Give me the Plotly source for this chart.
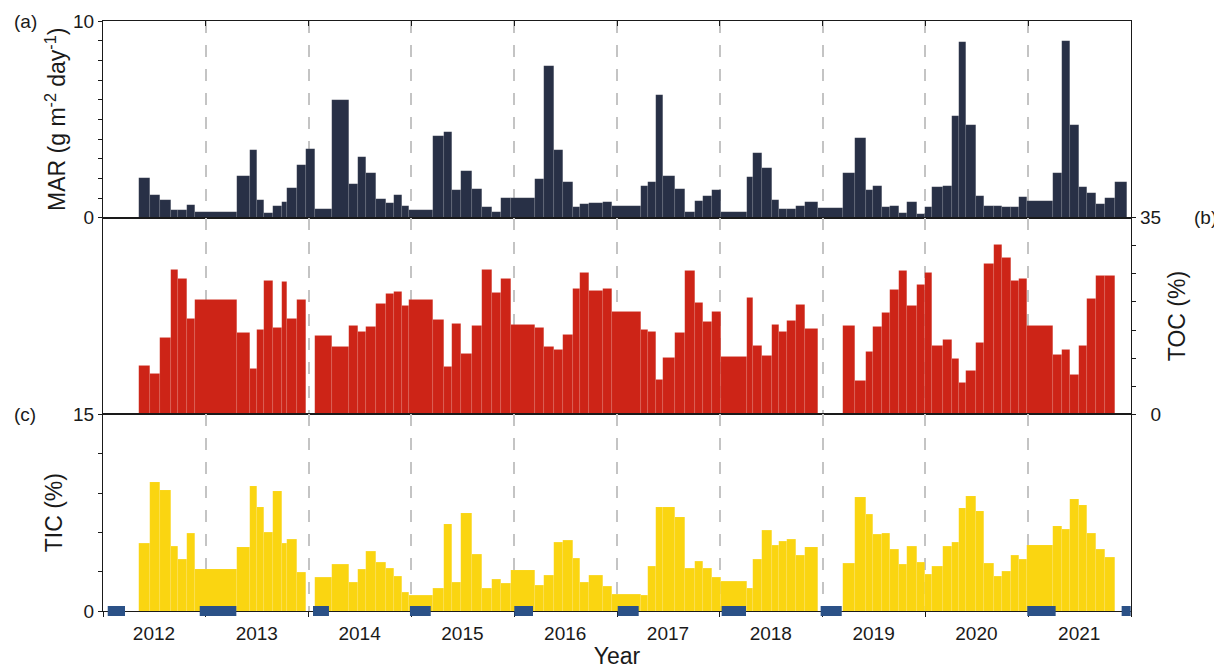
import plotly.graph_objects as go

# Sampling interval edges (decimal years)
edges = [2012.347, 2012.454, 2012.552, 2012.661, 2012.733, 2012.814, 2012.895, 2013.304,
         2013.430, 2013.495, 2013.566, 2013.657, 2013.741, 2013.787, 2013.884, 2013.972,
         2014.062, 2014.231, 2014.390, 2014.483, 2014.555, 2014.656, 2014.750, 2014.834,
         2014.906, 2014.980, 2015.207, 2015.320, 2015.398, 2015.480, 2015.592, 2015.690,
         2015.787, 2015.872, 2015.969, 2016.199, 2016.287, 2016.387, 2016.478, 2016.569,
         2016.640, 2016.731, 2016.861, 2016.948, 2017.231, 2017.305, 2017.376, 2017.450,
         2017.567, 2017.665, 2017.756, 2017.840, 2017.927, 2018.009, 2018.262, 2018.326,
         2018.411, 2018.505, 2018.573, 2018.651, 2018.744, 2018.824, 2018.952, 2019.195,
         2019.315, 2019.422, 2019.493, 2019.578, 2019.659, 2019.740, 2019.824, 2019.915,
         2019.996, 2020.067, 2020.174, 2020.259, 2020.324, 2020.395, 2020.492, 2020.573,
         2020.670, 2020.742, 2020.830, 2020.911, 2020.985, 2021.244, 2021.326, 2021.407,
         2021.491, 2021.575, 2021.657, 2021.747, 2021.844, 2021.961]

# Mass accumulation rate (g m-2 day-1)
mar = [2.0, 1.15, 0.9, 0.39, 0.39, 0.64, 0.27, 2.12, 3.44, 0.9,
       0.25, 0.61, 0.78, 1.49, 2.69, 3.49, 0.46, 5.97, 1.71, 3.07,
       2.25, 0.93, 0.73, 1.14, 0.59, 0.38, 4.15, 4.37, 1.41, 2.37,
       1.46, 0.53, 0.29, 1.02, 1.02, 1.98, 7.7, 3.44, 1.83, 0.54,
       0.68, 0.75, 0.78, 0.58, 1.61, 1.8, 6.23, 2.12, 1.44, 0.27,
       0.85, 1.1, 1.42, 0.29, 2.05, 3.3, 2.54, 0.9, 0.44, 0.44,
       0.6, 0.82, 0.48, 2.29, 4.06, 1.41, 1.63, 0.53, 0.59, 0.25,
       0.78, 0.17, 0.56, 1.57, 1.63, 5.18, 8.93, 4.71, 1.12, 0.61,
       0.59, 0.54, 0.53, 1.03, 0.83, 2.25, 8.98, 4.72, 1.54, 1.27,
       0.7, 1.0, 1.83]

# Total organic carbon (%)
toc = [8.7, 7.3, 13.7, 25.8, 24.1, 17.0, 20.4, 14.5, 8.2, 15.05,
       23.8, 15.5, 23.6, 17.1, 20.4, None, 14.0, 12.0, 15.8, 14.75,
       15.6, 19.75, 21.4, 21.9, 19.4, 20.4, 16.8, 8.4, 16.1, 10.8,
       15.7, 25.7, 21.6, 24.2, 15.95, 15.4, 11.96, 11.5, 14.1, 22.4,
       25.2, 22.0, 22.3, 18.3, 15.05, 14.75, 6.2, 10.05, 14.5, 25.5,
       19.9, 16.5, 18.3, 10.2, 20.8, 12.2, 10.5, 15.95, 14.75, 16.7,
       19.6, 15.2, None, 15.8, 6.07, 11.2, 15.6, 18.1, 22.25, 25.5,
       19.3, 23.0, 25.3, 12.25, 13.3, 9.9, 5.7, 7.8, 12.7, 26.9,
       30.2, 27.9, 23.75, 24.1, 15.8, 10.7, 11.5, 7.0, 12.2, 20.6,
       24.6, 24.6, None]

# Total inorganic carbon (%)
tic = [5.16, 9.84, 9.2, 4.96, 3.94, 5.95, 3.16, 4.88, 9.49, 7.91,
       6.03, 9.15, 5.16, 5.47, 2.95, None, 2.57, 3.56, 2.21, 3.2,
       4.58, 3.71, 3.28, 2.67, 1.45, 1.22, 1.73, 6.61, 2.21, 7.45,
       4.32, 1.76, 2.42, 2.11, 3.08, 1.96, 2.7, 5.21, 5.42, 4.02,
       2.21, 2.75, 1.86, 1.3, 1.22, 3.43, 7.89, 7.89, 7.17, 3.23,
       3.82, 3.23, 2.55, 2.29, 1.76, 3.97, 6.16, 5.04, 5.29, 5.47,
       4.27, 4.88, None, 3.66, 8.67, 7.38, 5.83, 5.93, 4.71, 3.54,
       4.96, 3.74, 2.8, 3.43, 4.93, 5.24, 7.83, 8.75, 7.6, 3.64,
       2.67, 3.03, 4.25, 3.94, 5.01, 6.48, 6.25, 8.52, 8.09, 5.9,
       4.71, 4.07, None]

# Ice-cover periods (decimal years)
ice_start = [2012.046, 2012.941, 2014.043, 2014.986, 2016.001, 2017.007, 2018.018, 2018.981, 2020.991, 2021.909]
ice_end = [2012.214, 2013.297, 2014.198, 2015.188, 2016.183, 2017.211, 2018.255, 2019.186, 2021.267, 2021.997]

years = list(range(2012, 2023))
year_labels = [str(y) for y in years[:-1]] + [""]

NAVY = "#283046"
RED = "#cd2417"
YELLOW = "#fad511"
ICE = "#2b5187"
GRID = "#c4c4c4"
LINE = "#1a1a1a"
FONT = "Liberation Sans, Arial, sans-serif"

centers = [(a + b) / 2 for a, b in zip(edges[:-1], edges[1:])]
widths = [b - a for a, b in zip(edges[:-1], edges[1:])]

fig = go.Figure()
for vals, color, xa, ya in [(mar, NAVY, "x", "y"), (toc, RED, "x2", "y2"), (tic, YELLOW, "x3", "y3")]:
    fig.add_trace(go.Bar(
        x=centers, y=vals, width=widths, xaxis=xa, yaxis=ya,
        marker=dict(color=color, line=dict(width=0.5, color="rgba(255,255,255,0.15)")),
        showlegend=False, hoverinfo="x+y"))

def xax(**kw):
    d = dict(range=[2012, 2022], tickmode="array", tickvals=years, showgrid=True,
             gridcolor=GRID, gridwidth=1.5, griddash="12px,12px", showline=True,
             linecolor=LINE, linewidth=1.2, mirror=True, zeroline=False,
             showticklabels=False, tickcolor=LINE, tickwidth=1.2, automargin=False)
    d.update(kw)
    return d

def yax(**kw):
    d = dict(showgrid=False, zeroline=False, showline=True, linecolor=LINE, linewidth=1.2,
             mirror=True, ticks="outside", ticklen=4, tickcolor=LINE, tickwidth=1.2,
             tickmode="array", automargin=False)
    d.update(kw)
    return d

# The page body adds an 8 px offset, so the figure is sized to fill the window from there.
fig.update_layout(
    width=1214, height=661,
    margin=dict(l=95, r=91, t=13, b=58),
    paper_bgcolor="white", plot_bgcolor="white",
    font=dict(family=FONT, size=19, color=LINE),
    bargap=0, barmode="overlay",
    xaxis=xax(anchor="y", side="top", ticks="inside", ticklen=5),
    xaxis2=xax(anchor="y2", ticks="", matches="x"),
    xaxis3=xax(anchor="y3", ticks="outside", ticklen=5, matches="x",
               showticklabels=True, ticktext=year_labels, ticklabelshift=51,
               title=dict(text="Year", standoff=8)),
    yaxis=yax(anchor="x", domain=[2/3, 1], range=[0, 10], tickvals=list(range(11)),
              ticktext=["0"] + [""] * 9 + ["10"],
              title=dict(text="MAR (g m<sup>-2</sup> day<sup>-1</sup>)", standoff=0)),
    yaxis2=yax(anchor="x2", domain=[1/3, 2/3], range=[0, 35], side="right",
               tickvals=list(range(0, 36, 5)), ticktext=["\u20070"] + [""] * 6 + ["35"],
               title=dict(text="TOC (%)", standoff=8)),
    yaxis3=yax(anchor="x3", domain=[0, 1/3], range=[0, 15], tickvals=list(range(0, 16, 3)),
               ticktext=["0"] + [""] * 4 + ["15"],
               title=dict(text="TIC (%)", standoff=3)),
)

for s, e in zip(ice_start, ice_end):
    fig.add_shape(type="rect", xref="x3", yref="paper", x0=s, x1=e,
                  y0=-5 / 590, y1=5 / 590, fillcolor=ICE, line_width=0, layer="above")

for txt, x, y, anchor in [("(a)", -0.089, 1.0, "left"), ("(b)", 1.0855, 2/3, "right"),
                          ("(c)", -0.089, 1/3, "left")]:
    fig.add_annotation(text=txt, xref="paper", yref="paper", x=x, y=y,
                       xanchor=anchor, yanchor="middle", showarrow=False,
                       font=dict(family=FONT, size=19, color=LINE))

fig.write_html("out.html")
